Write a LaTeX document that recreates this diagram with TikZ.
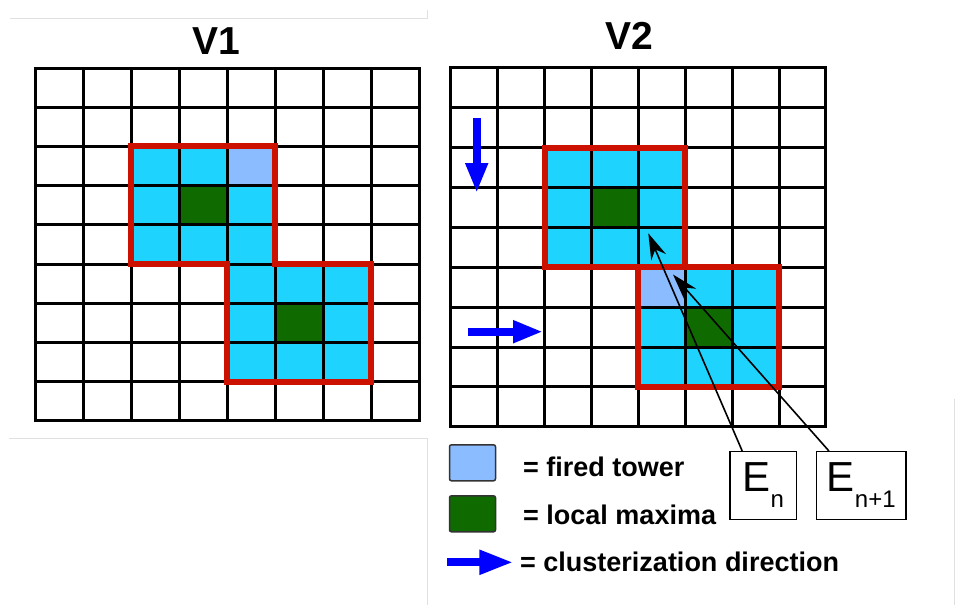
\documentclass[tikz,border=0pt]{standalone}
\usepackage{fontspec}
\setmainfont{Liberation Sans}
\usetikzlibrary{arrows.meta,positioning}

\definecolor{cellblue}{HTML}{1ED4FF}
\definecolor{firedblue}{HTML}{8ABCFF}
\definecolor{maxgreen}{HTML}{0F6B00}
\definecolor{clusred}{HTML}{CC1100}
\definecolor{dirblue}{HTML}{0000FF}

\begin{document}
\begin{tikzpicture}[
    x=1pt, y=-1pt,
    every node/.style={font=\fontsize{27}{32}\selectfont\bfseries},
    titlebox/.style={font=\fontsize{39}{44}\selectfont\bfseries, inner sep=0pt},
    gridline/.style={line width=3pt, line cap=rect},
    clusline/.style={draw=clusred, line width=6pt, line join=miter},
    dirarrow/.style={draw=dirblue, line width=8pt, -{Triangle[length=30pt,width=21pt]}},
    swatch/.style={draw=black!80, line width=1.5pt, rounded corners=2pt, minimum width=46pt, minimum height=36pt, inner sep=0pt},
    legtext/.style={inner sep=0pt},
    ebox/.style={draw, line width=1.5pt, fill=white, inner sep=0pt, minimum height=67.6pt, font=\fontsize{42}{42}\selectfont},
    pointer/.style={line width=1.6pt, -{Stealth[length=26pt,width=16pt]}},
    frameline/.style={draw=black!12, line width=1pt}
]
\useasboundingbox (0,0) rectangle (961,605);

% faint page edges
\draw[frameline] (10,18) -- (427,18) -- (427,10);
\draw[frameline] (9,438) -- (427,438) -- (427,605);
\draw[frameline] (954,399) -- (954,605);

% Titles
\node[titlebox] (v1title) at (216,41) {V1};
\node[titlebox] (v2title) at (629,36) {V2};

% V1 calorimeter
\begin{scope}[shift={(35,68)}, x=48pt, y=-39.2pt]
\fill[cellblue] (2,2) rectangle (5,5);
\fill[cellblue] (4,5) rectangle (7,8);
\fill[firedblue] (4,2) rectangle (5,3);
\fill[maxgreen] (3,3) rectangle (4,4);
\fill[maxgreen] (5,6) rectangle (6,7);
\foreach \i in {0,...,8} \draw[gridline] (\i,0) -- (\i,9);
\foreach \j in {0,...,9} \draw[gridline] (0,\j) -- (8,\j);
\draw[clusline] (2,2) -- (5,2) -- (5,5) -- (7,5) -- (7,8) -- (4,8) -- (4,5) -- (2,5) -- cycle;
\end{scope}

% V2 calorimeter
\begin{scope}[shift={(450.7,67.7)}, x=46.9pt, y=-39.9pt]
\fill[cellblue] (2,2) rectangle (5,5);
\fill[cellblue] (4,5) rectangle (7,8);
\fill[firedblue] (4,5) rectangle (5,6);
\fill[maxgreen] (3,3) rectangle (4,4);
\fill[maxgreen] (5,6) rectangle (6,7);
\foreach \i in {0,...,8} \draw[gridline] (\i,0) -- (\i,9);
\foreach \j in {0,...,9} \draw[gridline] (0,\j) -- (8,\j);
\draw[clusline] (2,2) rectangle (5,5);
\draw[clusline] (4,5) rectangle (7,8);
\end{scope}

% clusterization directions
\coordinate (downA) at (476.7,118);
\coordinate (downB) at (476.7,193);
\coordinate (rightA) at (468,331.7);
\coordinate (rightB) at (543,331.7);
\draw[dirarrow] (downA) -- (downB);
\draw[dirarrow] (rightA) -- (rightB);

% Energy boxes
\node[ebox, minimum width=66.7pt] (en) at (763.3,485.5) {E\raisebox{-16pt}{\fontsize{24}{24}\selectfont n}};
\node[ebox, minimum width=89.3pt] (enext) at (861.3,485.5) {E\raisebox{-16pt}{\fontsize{24}{24}\selectfont n+1}};
\coordinate (tipEn) at (648.3,233.3);
\coordinate (tipEnext) at (673,274.5);
\draw[pointer] ([xshift=13pt]en.north west) -- (tipEn);
\draw[pointer] ([xshift=13pt]enext.north west) -- (tipEnext);

% Legend
\node[swatch, fill=firedblue] (legfired) at (472.5,462.8) {};
\node[swatch, fill=maxgreen] (legmax) at (472.5,513.8) {};
\node[legtext, anchor=base west] (txtfired) at (523,476.7) {= fired tower};
\node[legtext, anchor=base west] (txtmax) at (523,524.3) {= local maxima};
\coordinate (legdirA) at (447.3,562.3);
\coordinate (legdirB) at (513.3,562.3);
\draw[dirarrow, -{Triangle[length=34pt,width=23pt]}] (legdirA) -- (legdirB);
\node[legtext, anchor=base west] (txtdir) at (520,571.7) {= clusterization direction};
\end{tikzpicture}
\end{document}
